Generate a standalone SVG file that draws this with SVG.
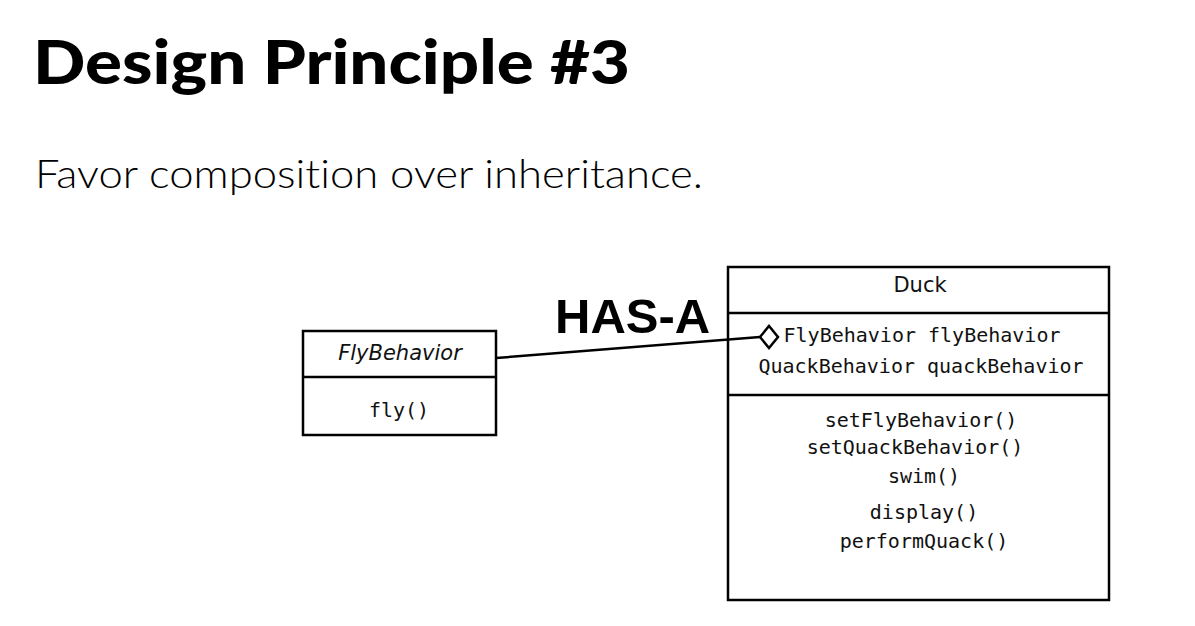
<svg xmlns="http://www.w3.org/2000/svg" width="1195" height="626" viewBox="0 0 1195 626">
<style>
.box{fill:#fff;stroke:#000;stroke-width:2.5}
.div{stroke:#000;stroke-width:2.5}
.mono{font-family:"DejaVu Sans Mono","Liberation Mono",monospace;font-size:20px;fill:#111;text-anchor:middle}
.sans{font-family:"DejaVu Sans","Liberation Sans",sans-serif;font-size:21px;fill:#111;text-anchor:middle}
</style>
<rect width="1195" height="626" fill="#fff"/>
<text x="33" y="84" font-family="Lato, 'Liberation Sans', sans-serif" font-weight="900" font-size="61" textLength="597" lengthAdjust="spacingAndGlyphs">Design Principle #3</text>
<text x="35" y="188" font-family="Lato, 'Liberation Sans', sans-serif" font-weight="300" font-size="40" fill="#000" style="font-variant-ligatures:none" textLength="668" lengthAdjust="spacingAndGlyphs">Favor composition over inheritance.</text>
<g id="flybehavior">
<rect class="box" x="303" y="331" width="193" height="104"/>
<line class="div" x1="303" y1="377" x2="496" y2="377"/>
<text class="sans" x="400" y="360" font-style="italic">FlyBehavior</text>
<text class="mono" x="399" y="417">fly()</text>
</g>
<g id="duck">
<rect class="box" x="728" y="267" width="381" height="333"/>
<line class="div" x1="728" y1="313" x2="1109" y2="313"/>
<line class="div" x1="728" y1="395" x2="1109" y2="395"/>
<text class="sans" x="920" y="292">Duck</text>
<text class="mono" x="922" y="342">FlyBehavior flyBehavior</text>
<text class="mono" x="921" y="373">QuackBehavior quackBehavior</text>
<text class="mono" x="921" y="427">setFlyBehavior()</text>
<text class="mono" x="915" y="454">setQuackBehavior()</text>
<text class="mono" x="924" y="483">swim()</text>
<text class="mono" x="924" y="519">display()</text>
<text class="mono" x="924" y="548">performQuack()</text>
</g>
<g id="connectors">
<line x1="496" y1="358" x2="760" y2="337" stroke="#000" stroke-width="2.5"/>
<polygon points="760,337 769,326 778,337 769,348" fill="#fff" stroke="#000" stroke-width="2.5" stroke-linejoin="miter"/>
<text x="555" y="333" font-family="'Liberation Sans', Arial, sans-serif" font-weight="bold" font-size="49">HAS-A</text>
</g>
</svg>
